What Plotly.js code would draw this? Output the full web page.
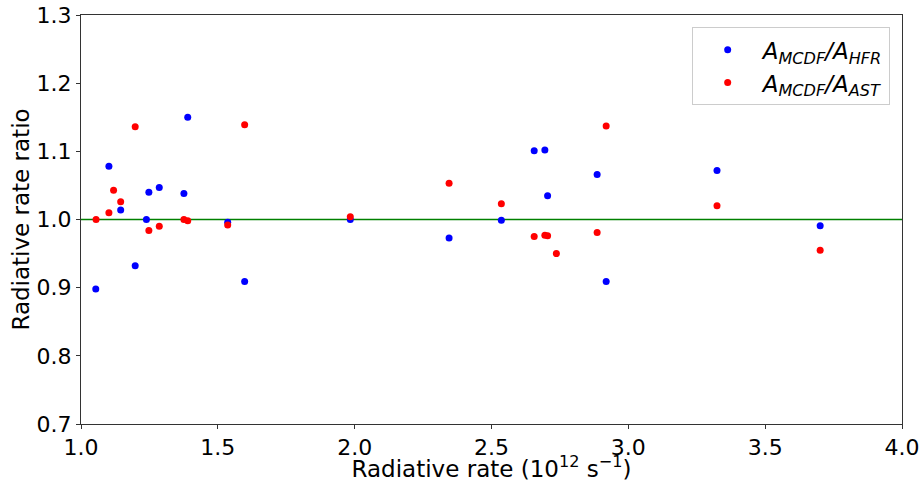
<!DOCTYPE html>
<html>
<head>
<meta charset="utf-8">
<script src="https://cdn.plot.ly/plotly-3.0.1.min.js"></script>
<style>html,body{margin:0;padding:0;background:#fff;}#chart{width:922px;height:482px;}</style>
</head>
<body>
<div id="chart"></div>
<script>
// A_MCDF / A_HFR (blue)
const hfrX = [1.054, 1.102, 1.145, 1.198, 1.239, 1.248, 1.286, 1.376, 1.390, 1.536, 1.598, 1.984, 2.345, 2.536, 2.656, 2.695, 2.705, 2.886, 2.919, 3.324, 3.701];
const hfrY = [0.898, 1.078, 1.014, 0.932, 1.000, 1.040, 1.047, 1.038, 1.150, 0.996, 0.909, 1.000, 0.973, 0.999, 1.101, 1.102, 1.035, 1.066, 0.909, 1.072, 0.991];
// A_MCDF / A_AST (red)
const astX = [1.055, 1.102, 1.119, 1.145, 1.198, 1.248, 1.286, 1.376, 1.390, 1.536, 1.598, 1.984, 2.345, 2.536, 2.656, 2.695, 2.705, 2.737, 2.886, 2.919, 3.324, 3.701];
const astY = [1.000, 1.010, 1.043, 1.026, 1.136, 0.984, 0.990, 1.000, 0.998, 0.992, 1.139, 1.004, 1.053, 1.023, 0.975, 0.977, 0.976, 0.950, 0.981, 1.137, 1.020, 0.955];
// reference line ratio = 1
const refX = [1.0, 4.0];
const refY = [1.0, 1.0];
const xTicks = [1.0, 1.5, 2.0, 2.5, 3.0, 3.5, 4.0];
const yTicks = [0.7, 0.8, 0.9, 1.0, 1.1, 1.2, 1.3];

const font = 'DejaVu Sans, sans-serif';
const traces = [
  {x: refX, y: refY, mode: 'lines', line: {color: '#008000', width: 1.6}, showlegend: false, hoverinfo: 'skip'},
  {x: hfrX, y: hfrY, mode: 'markers', marker: {color: '#0000ff', size: 7},
   name: '<i>A</i><sub><i>MCDF</i></sub><i>/A</i><sub><i>HFR</i></sub>'},
  {x: astX, y: astY, mode: 'markers', marker: {color: '#ff0000', size: 7},
   name: '<i>A</i><sub><i>MCDF</i></sub><i>/A</i><sub><i>AST</i></sub>'}
];
const axisCommon = {
  showgrid: false, zeroline: false, showline: true, linecolor: '#333', linewidth: 1,
  mirror: true, ticks: 'outside', ticklen: 4, tickcolor: '#333', tickwidth: 1,
  tickfont: {family: font, size: 22, color: '#000'}, tickformat: '.1f'
};
const layout = {
  width: 922, height: 482,
  margin: {l: 81, r: 20, t: 15, b: 58},
  paper_bgcolor: '#fff', plot_bgcolor: '#fff',
  xaxis: Object.assign({}, axisCommon, {range: [1.0, 4.0], tickvals: xTicks,
    title: {text: 'Radiative rate (10<sup>12</sup> s<sup>\u22121</sup>)', font: {family: font, size: 23, color: '#000'}, standoff: 6}}),
  yaxis: Object.assign({}, axisCommon, {range: [0.7, 1.3], tickvals: yTicks,
    title: {text: 'Radiative rate ratio', font: {family: font, size: 23, color: '#000'}, standoff: 0}}),
  legend: {x: 0.985, y: 0.97, xanchor: 'right', yanchor: 'top', bordercolor: '#ccc', borderwidth: 1,
    bgcolor: 'rgba(255,255,255,0.8)', font: {family: font, size: 23, color: '#000'}, itemwidth: 60,
    tracegroupgap: 0},
  showlegend: true
};
Plotly.newPlot('chart', traces, layout, {displayModeBar: false, staticPlot: true});
</script>
</body>
</html>
